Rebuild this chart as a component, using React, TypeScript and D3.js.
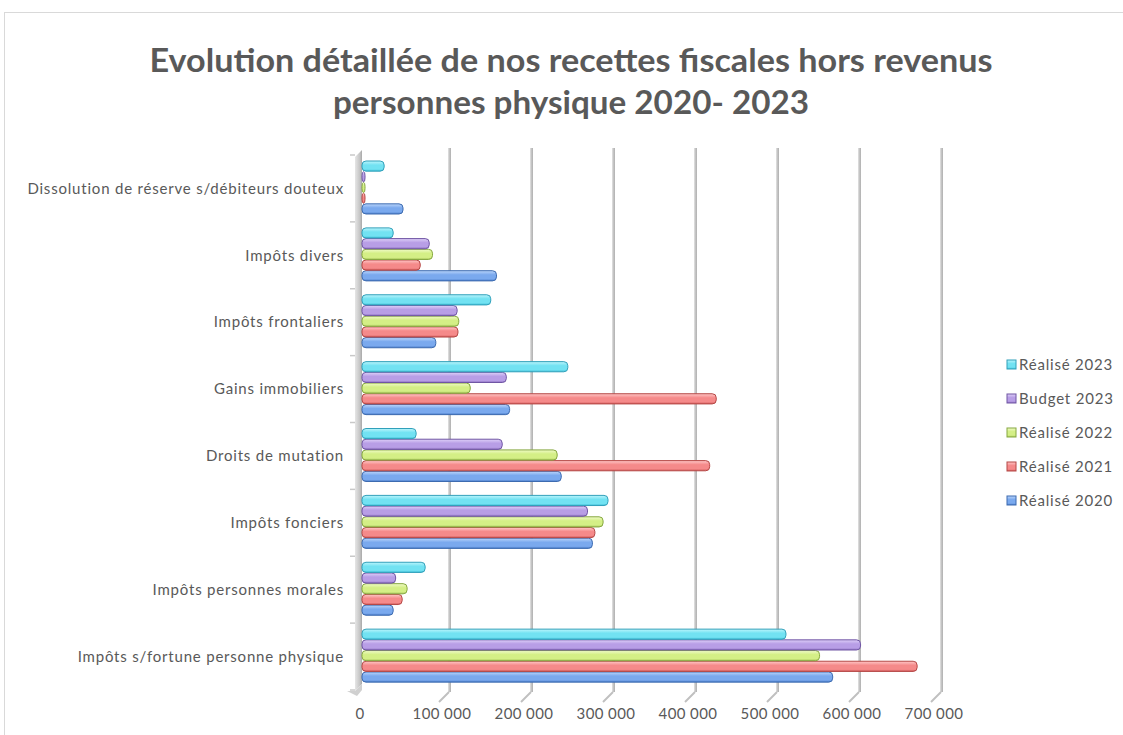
import React from 'react';
import * as d3 from 'd3';

// categories from top to bottom, as in the chart
const categories = [
  'Dissolution de réserve s/débiteurs douteux',
  'Impôts divers',
  'Impôts frontaliers',
  'Gains immobiliers',
  'Droits de mutation',
  'Impôts fonciers',
  'Impôts personnes morales',
  'Impôts s/fortune personne physique',
];

const series = ['Réalisé 2020', 'Réalisé 2021', 'Réalisé 2022', 'Budget 2023', 'Réalisé 2023'];

// values per series, same order as categories
const realise2020 = [50000, 164000, 90000, 180000, 243000, 281000, 38000, 574000];
const realise2021 = [2000, 71000, 117000, 432000, 424000, 284000, 49000, 677000];
const realise2022 = [2000, 86000, 118000, 132000, 238000, 294000, 55000, 558000];
const budget2023 = [2000, 82000, 116000, 176000, 171000, 275000, 41000, 608000];
const realise2023 = [27000, 38000, 157000, 251000, 66000, 300000, 77000, 517000];

const xTicks = [0, 100000, 200000, 300000, 400000, 500000, 600000, 700000];

const seriesValues = [realise2020, realise2021, realise2022, budget2023, realise2023];

// light / base / dark / stroke
const palette = [
  ['#bcd6fb', '#7aa9ee', '#4a7cc8', '#3d6bb0'],
  ['#ffc8c8', '#f58a8a', '#d05a5a', '#b54846'],
  ['#f0fbc8', '#d4ef86', '#a9c85a', '#86a840'],
  ['#ded0f8', '#b89ee6', '#8d70c0', '#7056a4'],
  ['#bcf5fc', '#72e2f2', '#3fbfd8', '#31a0ba'],
];

const font = 'Lato, "Open Sans", sans-serif';
const textColor = '#595959';

export default function App() {
  const x = d3.scaleLinear().domain([0, 700000]).range([362, 936]);
  const y = d3.scaleBand().domain(categories).range([155, 690]);
  // 2023 at top of each group, 2020 at bottom
  const inner = d3
    .scaleBand()
    .domain(series.slice().reverse())
    .range([6, 59])
    .paddingInner(0.05);

  const fmt = (v: number) => d3.format(',')(v).replace(/,/g, ' ');

  const legendOrder = series.slice().reverse();

  return (
    <svg
      width={1123}
      height={735}
      style={{ position: 'absolute', left: 0, top: 0, background: '#fff' }}
    >
      <defs>
        {palette.map((p, i) => (
          <linearGradient key={i} id={`bar${i}`} x1="0" y1="0" x2="0" y2="1">
            <stop offset="0%" stopColor={p[0]} />
            <stop offset="40%" stopColor={p[1]} />
            <stop offset="80%" stopColor={p[1]} />
            <stop offset="100%" stopColor={p[2]} />
          </linearGradient>
        ))}
        <linearGradient id="grid" x1="0" y1="0" x2="1" y2="0">
          <stop offset="0%" stopColor="#e4e4e4" />
          <stop offset="50%" stopColor="#c4c4c4" />
          <stop offset="100%" stopColor="#b0b0b0" />
        </linearGradient>
        <linearGradient id="wall" x1="0" y1="0" x2="1" y2="0">
          <stop offset="0%" stopColor="#e6e6e6" />
          <stop offset="70%" stopColor="#c4c4c4" />
          <stop offset="100%" stopColor="#a8a8a8" />
        </linearGradient>
      </defs>

      {/* chart area border */}
      <rect x={4.5} y={12.5} width={1200} height={800} fill="#fff" stroke="#d9d9d9" />

      {/* title */}
      <text
        x={571}
        y={72}
        textAnchor="middle"
        fontFamily={font}
        fontWeight="bold"
        fontSize={32}
        fill={textColor}
        textLength={843}
        lengthAdjust="spacingAndGlyphs"
      >
        Evolution détaillée de nos recettes fiscales hors revenus
      </text>
      <text
        x={571}
        y={114}
        textAnchor="middle"
        fontFamily={font}
        fontWeight="bold"
        fontSize={32}
        fill={textColor}
        textLength={476}
        lengthAdjust="spacingAndGlyphs"
      >
        personnes physique 2020- 2023
      </text>

      {/* vertical gridlines on back wall, with floor diagonals */}
      {xTicks.slice(1).map((t) => (
        <g key={t}>
          <rect x={x(t) + 4} y={148} width={3} height={544} fill="url(#grid)" />
          <line
            x1={x(t) + 5}
            y1={692}
            x2={x(t) - 5}
            y2={702}
            stroke="#c0c0c0"
            strokeWidth={2}
          />
        </g>
      ))}

      {/* left wall */}
      <path d="M355,157 L362,150 L362,684 L355,691 Z" fill="url(#wall)" />
      <path d="M347,691 L355,691 L362,684 L362,690 L357,696 Z" fill="#d0d0d0" />
      {[...categories.map((c) => y(c) as number), 690].map((v, i) => (
        <line key={i} x1={350} y1={v} x2={355} y2={v} stroke="#c8c8c8" strokeWidth={1.5} />
      ))}

      {/* bars */}
      {seriesValues.map((vals, si) =>
        vals.map((v, ci) => {
          const cy = (y(categories[ci]) as number) + (inner(series[si]) as number);
          const h = inner.bandwidth();
          return (
            <rect
              key={`${si}-${ci}`}
              x={x(0)}
              y={cy}
              width={Math.max(x(v) - x(0), 3)}
              height={h}
              rx={4}
              ry={4}
              fill={`url(#bar${si})`}
              stroke={palette[si][3]}
              strokeWidth={1}
            />
          );
        })
      )}

      {/* category labels */}
      {categories.map((c) => (
        <text
          key={c}
          x={344}
          y={(y(c) as number) + y.bandwidth() / 2}
          dy="0.35em"
          textAnchor="end"
          fontFamily={font}
          fontSize={15}
          letterSpacing={0.8}
          fill={textColor}
        >
          {c}
        </text>
      ))}

      {/* value axis labels */}
      {xTicks.map((t) => (
        <text
          key={t}
          x={x(t) - 2}
          y={719}
          textAnchor="middle"
          fontFamily={font}
          fontSize={15}
          letterSpacing={0.4}
          fill={textColor}
        >
          {fmt(t)}
        </text>
      ))}

      {/* legend */}
      {legendOrder.map((s, i) => {
        const si = series.indexOf(s);
        const ly = 365 + i * 34;
        return (
          <g key={s}>
            <rect
              x={1007}
              y={ly - 5}
              width={9}
              height={9}
              fill={`url(#bar${si})`}
              stroke={palette[si][3]}
              strokeWidth={1}
            />
            <text
              x={1019}
              y={ly}
              dy="0.35em"
              fontFamily={font}
              fontSize={15}
              letterSpacing={0.8}
              fill={textColor}
            >
              {s}
            </text>
          </g>
        );
      })}
    </svg>
  );
}
